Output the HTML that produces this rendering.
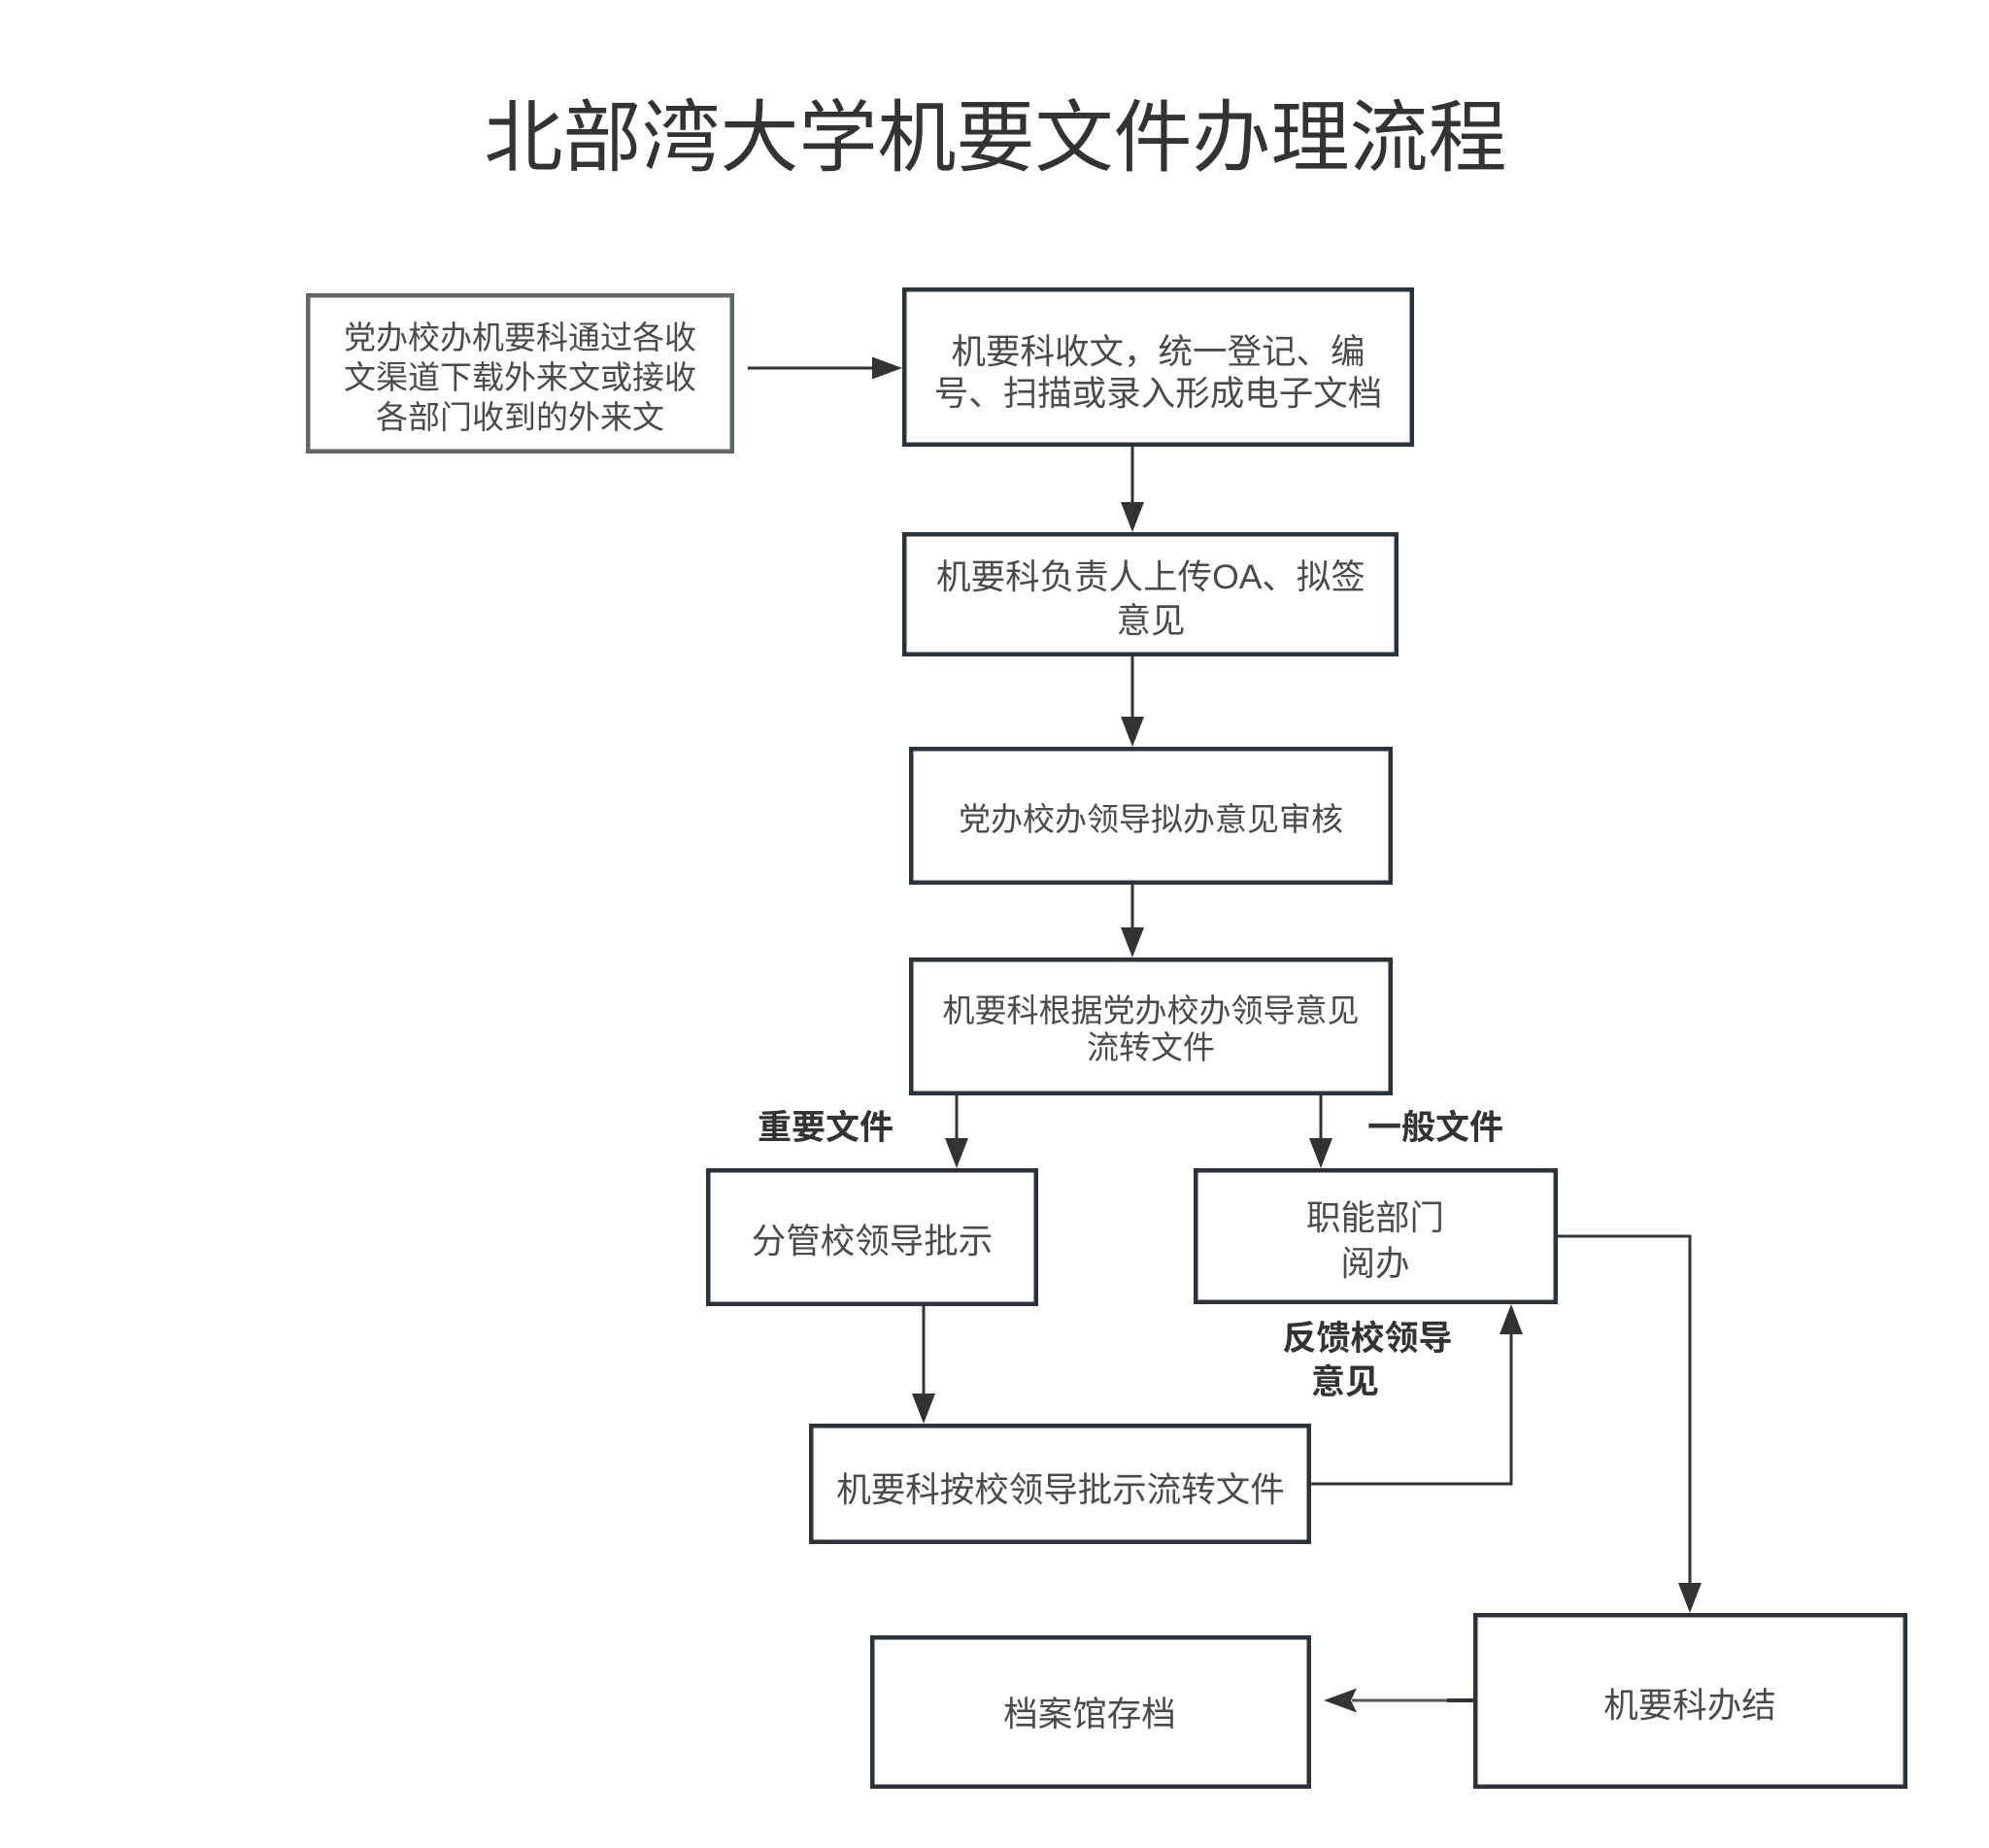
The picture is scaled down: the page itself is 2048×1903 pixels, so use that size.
<!DOCTYPE html>
<html>
<head>
<meta charset="utf-8">
<style>
  html, body { margin: 0; padding: 0; background: #ffffff; }
  body { width: 2048px; height: 1903px; overflow: hidden; }
  svg { display: block; }
  .t { font-family: "Liberation Sans", "Noto Sans CJK SC", "WenQuanYi Zen Hei", sans-serif; fill: #4a4a4a; text-anchor: middle; }
  .b { font-family: "Liberation Sans", "Noto Sans CJK SC", "WenQuanYi Zen Hei", sans-serif; fill: #333333; font-weight: bold; text-anchor: middle; }
  .box { fill: #ffffff; stroke: #2d3238; stroke-width: 4.5; }
  .ln { fill: none; stroke: #333333; stroke-width: 3; }
  .ah { fill: #333333; stroke: none; }
</style>
</head>
<body>
<svg width="2048" height="1903" viewBox="0 0 2048 1903" xmlns="http://www.w3.org/2000/svg">
  <rect x="0" y="0" width="2048" height="1903" fill="#ffffff"/>

  <!-- Title -->
  <text class="t" x="1025" y="170" style="font-size:81px;fill:#333333;">北部湾大学机要文件办理流程</text>

  <!-- Boxes -->
  <rect x="317.25" y="304.25" width="436.5" height="160.5" fill="#fff" stroke="#62676b" stroke-width="4.5"/>
  <rect class="box" x="931.25" y="298.25" width="522.5" height="159.5"/>
  <rect class="box" x="931.25" y="550.25" width="506.5" height="123.5"/>
  <rect class="box" x="938.25" y="771.25" width="493.5" height="137.5"/>
  <rect class="box" x="938.25" y="988.25" width="493.5" height="137.5"/>
  <rect class="box" x="729.25" y="1205.25" width="337.5" height="137.5"/>
  <rect class="box" x="1231.25" y="1205.25" width="370.5" height="135.5"/>
  <rect class="box" x="835.25" y="1468.25" width="512.5" height="119.5"/>
  <rect class="box" x="898.25" y="1686.25" width="449.5" height="153.5"/>
  <rect class="box" x="1519.25" y="1663.25" width="442.5" height="176.5"/>

  <!-- Connectors -->
  <!-- left box -> box2 -->
  <line class="ln" x1="770" y1="379" x2="901" y2="379"/>
  <polygon class="ah" points="929,379 898,367.5 898,390.5"/>
  <!-- box2 -> box3 -->
  <line class="ln" x1="1166" y1="460" x2="1166" y2="520"/>
  <polygon class="ah" points="1166,548 1154,517 1178,517"/>
  <!-- box3 -> box4 -->
  <line class="ln" x1="1166" y1="676" x2="1166" y2="741"/>
  <polygon class="ah" points="1166,769 1154,738 1178,738"/>
  <!-- box4 -> box5 -->
  <line class="ln" x1="1166" y1="911" x2="1166" y2="958"/>
  <polygon class="ah" points="1166,986 1154,955 1178,955"/>
  <!-- box5 -> box6 -->
  <line class="ln" x1="985" y1="1128" x2="985" y2="1175"/>
  <polygon class="ah" points="985,1203 973,1172 997,1172"/>
  <!-- box5 -> box7 -->
  <line class="ln" x1="1360" y1="1128" x2="1360" y2="1175"/>
  <polygon class="ah" points="1360,1203 1348,1172 1372,1172"/>
  <!-- box6 -> box8 -->
  <line class="ln" x1="951" y1="1345" x2="951" y2="1438"/>
  <polygon class="ah" points="951,1466 939,1435 963,1435"/>
  <!-- box8 -> box7 (feedback) -->
  <polyline class="ln" points="1350,1528 1556,1528 1556,1372"/>
  <polygon class="ah" points="1556,1343 1544,1374 1568,1374"/>
  <!-- box7 -> box10 -->
  <polyline class="ln" points="1604,1273 1740,1273 1740,1633"/>
  <polygon class="ah" points="1740,1661 1728,1630 1752,1630"/>
  <!-- box10 -> box9 -->
  <line class="ln" x1="1517" y1="1751" x2="1392" y2="1751" style="stroke:#555;"/>
  <line x1="1517" y1="1751" x2="1490" y2="1751" stroke="#2d3238" stroke-width="4"/>
  <polygon class="ah" points="1363,1751 1397,1738.5 1391,1751 1397,1763.5"/>

  <!-- Box texts -->
  <text class="t" x="535.5" y="359" style="font-size:33px;">党办校办机要科通过各收</text>
  <text class="t" x="535.5" y="400" style="font-size:33px;">文渠道下载外来文或接收</text>
  <text class="t" x="535.5" y="441" style="font-size:33px;">各部门收到的外来文</text>

  <text class="t" x="1192.5" y="374" style="font-size:35.5px;">机要科收文，统一登记、编</text>
  <text class="t" x="1192.5" y="417" style="font-size:35.5px;">号、扫描或录入形成电子文档</text>

  <text class="t" x="1185" y="606" style="font-size:35.5px;">机要科负责人上传OA、拟签</text>
  <text class="t" x="1185" y="651" style="font-size:35.5px;">意见</text>

  <text class="t" x="1185" y="855" style="font-size:33px;">党办校办领导拟办意见审核</text>

  <text class="t" x="1185" y="1052" style="font-size:33px;">机要科根据党办校办领导意见</text>
  <text class="t" x="1185" y="1090" style="font-size:33px;">流转文件</text>

  <text class="t" x="898" y="1290" style="font-size:35.5px;">分管校领导批示</text>

  <text class="t" x="1416" y="1266" style="font-size:35.5px;">职能部门</text>
  <text class="t" x="1416" y="1313" style="font-size:35.5px;">阅办</text>

  <text class="t" x="1092" y="1546" style="font-size:35.5px;">机要科按校领导批示流转文件</text>

  <text class="t" x="1122" y="1777" style="font-size:35.5px;">档案馆存档</text>

  <text class="t" x="1740" y="1768" style="font-size:35.5px;">机要科办结</text>

  <!-- Edge labels -->
  <text class="b" x="850" y="1173" style="font-size:35px;">重要文件</text>
  <text class="b" x="1478" y="1173" style="font-size:35px;">一般文件</text>
  <text class="b" x="1408" y="1390" style="font-size:35px;">反馈校领导</text>
  <text class="b" x="1385" y="1435" style="font-size:35px;">意见</text>
</svg>
</body>
</html>
